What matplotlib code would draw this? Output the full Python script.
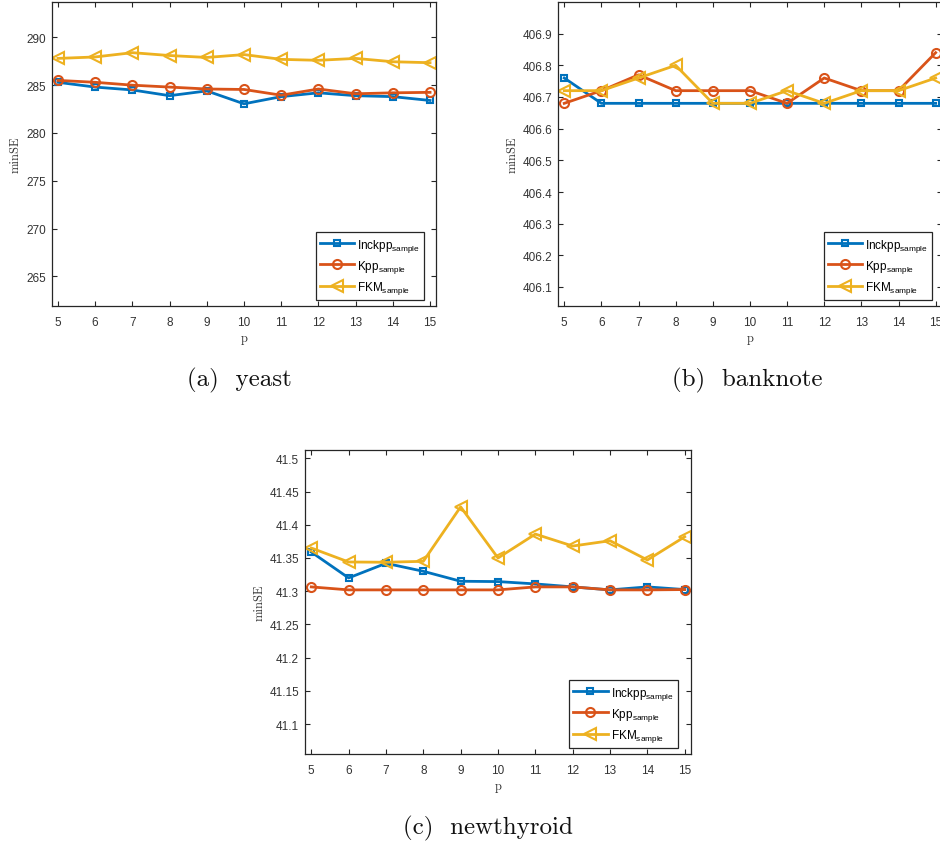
import matplotlib
matplotlib.use("Agg")
import matplotlib.pyplot as plt

plt.rcParams['font.family'] = ['Liberation Sans', 'DejaVu Sans']
plt.rcParams['mathtext.fontset'] = 'custom'
plt.rcParams['mathtext.rm'] = 'Liberation Sans'
plt.rcParams['mathtext.it'] = 'Liberation Sans:italic'
plt.rcParams['mathtext.bf'] = 'Liberation Sans:bold'

# ---------------- data ----------------
p_values = [5, 6, 7, 8, 9, 10, 11, 12, 13, 14, 15]
series_labels = [r'Inckpp$_{\mathrm{sample}}$', r'Kpp$_{\mathrm{sample}}$', r'FKM$_{\mathrm{sample}}$']

yeast_inckpp = [285.3, 284.8, 284.5, 283.9, 284.4, 283.05, 283.8, 284.2, 283.9, 283.8, 283.4]
yeast_kpp = [285.5, 285.3, 285.0, 284.8, 284.6, 284.55, 283.95, 284.6, 284.1, 284.2, 284.25]
yeast_fkm = [287.8, 287.95, 288.4, 288.1, 287.9, 288.2, 287.7, 287.6, 287.8, 287.45, 287.35]

banknote_inckpp = [406.76, 406.68, 406.68, 406.68, 406.68, 406.68, 406.68, 406.68, 406.68, 406.68, 406.68]
banknote_kpp = [406.68, 406.72, 406.77, 406.72, 406.72, 406.72, 406.68, 406.76, 406.72, 406.72, 406.84]
banknote_fkm = [406.72, 406.72, 406.76, 406.80, 406.68, 406.68, 406.72, 406.68, 406.72, 406.72, 406.76]

thyroid_inckpp = [41.359, 41.320, 41.342, 41.330, 41.315, 41.3145, 41.311, 41.3065, 41.302, 41.3065, 41.3025]
thyroid_kpp = [41.3065, 41.302, 41.302, 41.302, 41.302, 41.302, 41.3065, 41.3065, 41.302, 41.302, 41.3025]
thyroid_fkm = [41.365, 41.344, 41.3436, 41.345, 41.427, 41.350, 41.386, 41.368, 41.376, 41.347, 41.382]

yeast_yticks = [265, 270, 275, 280, 285, 290]
yeast_yticklabels = ['265', '270', '275', '280', '285', '290']
banknote_yticks = [406.1, 406.2, 406.3, 406.4, 406.5, 406.6, 406.7, 406.8, 406.9]
banknote_yticklabels = ['406.1', '406.2', '406.3', '406.4', '406.5', '406.6', '406.7', '406.8', '406.9']
thyroid_yticks = [41.1, 41.15, 41.2, 41.25, 41.3, 41.35, 41.4, 41.45, 41.5]
thyroid_yticklabels = ['41.1', '41.15', '41.2', '41.25', '41.3', '41.35', '41.4', '41.45', '41.5']

captions = ['(a)  yeast', '(b)  banknote', '(c)  newthyroid']

# ---------------- style ----------------
colors = ['#0072BD', '#D95319', '#EDB120']
markers = ['s', 'o', '<']
msizes = [4.5, 6.5, 8]
axcol = '#262626'

W, H = 940, 845
fig = plt.figure(figsize=(W / 100, H / 100), dpi=100)


def px_axes(left, top, right, bottom):
    return fig.add_axes([left / W, 1 - bottom / H, (right - left) / W, (bottom - top) / H])


def draw(ax, ys, ylim, yticks, yticklabels, leg_right):
    for y, c, m, ms, lab in zip(ys, colors, markers, msizes, series_labels):
        ax.plot(p_values, y, color=c, lw=2.0, marker=m, ms=ms, mfc='none',
                mec=c, mew=1.5, label=lab)
    ax.set_xlim(4.84, 15.16)
    ax.set_ylim(*ylim)
    ax.set_xticks(p_values)
    ax.set_xticklabels([str(v) for v in p_values])
    ax.set_yticks(yticks)
    ax.set_yticklabels(yticklabels)
    ax.tick_params(direction='in', length=3.5, width=0.8, top=True, right=True,
                   labelsize=8.5, colors=axcol, labelcolor='#333333')
    ax.tick_params(axis='x', pad=7)
    ax.tick_params(axis='y', pad=4.5)
    for s in ax.spines.values():
        s.set_color(axcol)
        s.set_linewidth(0.9)
    ax.set_xlabel('p', family='cmr10', fontsize=9, color='#333333', labelpad=3)
    ax.set_ylabel('minSE', family='cmr10', fontsize=9, color='#333333', labelpad=3)
    leg = ax.legend(loc='lower right', bbox_to_anchor=(leg_right, 0.02), fontsize=8.5,
                    handlelength=2.9, handletextpad=0.25, labelspacing=0.35,
                    borderpad=0.35, borderaxespad=0.0, fancybox=False,
                    framealpha=1, edgecolor=axcol)
    leg.get_frame().set_linewidth(0.9)


ax_a = px_axes(52, 3, 436, 307)
draw(ax_a, [yeast_inckpp, yeast_kpp, yeast_fkm], (261.9, 293.7),
     yeast_yticks, yeast_yticklabels, 0.969)

ax_b = px_axes(558.3, 3, 941.6, 307)
draw(ax_b, [banknote_inckpp, banknote_kpp, banknote_fkm], (406.04, 407.0),
     banknote_yticks, banknote_yticklabels, 0.975)

ax_c = px_axes(305.3, 450.7, 690.7, 755)
draw(ax_c, [thyroid_inckpp, thyroid_kpp, thyroid_fkm], (41.055, 41.513),
     thyroid_yticks, thyroid_yticklabels, 0.966)

cap_pos = [(239, 380), (747, 380), (488, 828)]
for txt, (x, y) in zip(captions, cap_pos):
    fig.text(x / W, 1 - y / H, txt, family='cmr10', fontsize=18, ha='center',
             va='center', color='#111111')

fig.savefig('out.png', dpi=100)
